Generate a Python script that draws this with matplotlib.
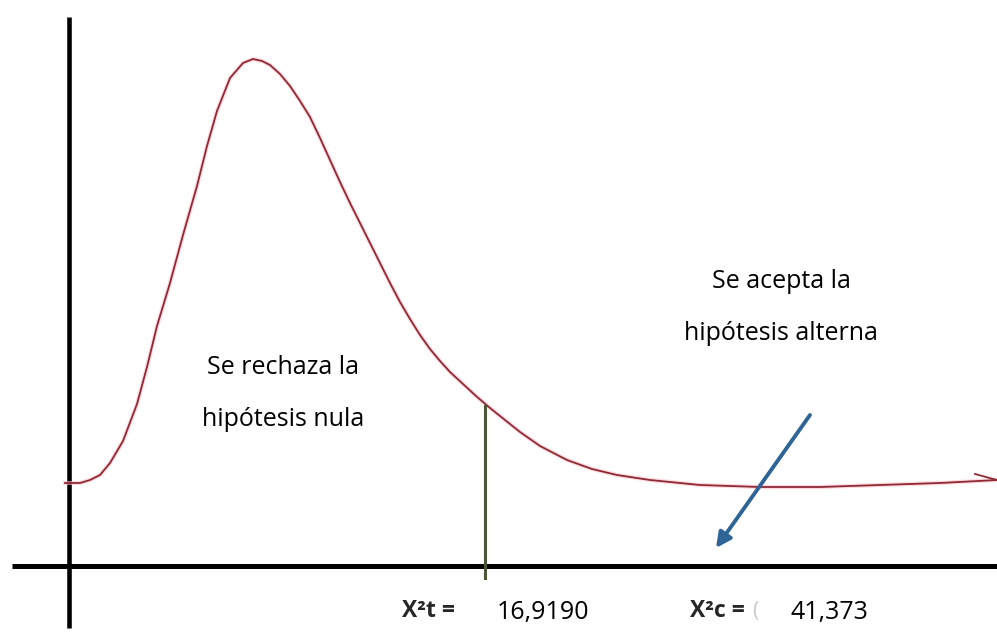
import numpy as np
import matplotlib.pyplot as plt

# curve: x position, height above the horizontal axis
curve_x = [65, 80, 90, 100, 110, 123, 137, 147, 157, 170, 183, 197, 207, 217,
           230, 243, 253, 262, 270, 280, 290, 300, 310, 320, 330, 340, 350,
           360, 370, 380, 390, 400, 410, 420, 430, 440, 450, 463, 476, 490, 505,
           520, 540, 567, 592, 617, 650, 700, 760, 820, 880, 940, 997]
curve_y = [83, 83, 86, 91, 103, 125, 162, 199, 240, 283, 331, 380, 420, 455,
           488, 503, 507, 505, 501, 492, 480, 465, 449, 428, 406, 384, 363,
           343, 323, 303, 283, 264, 247, 231, 217, 205, 194, 182, 170, 158, 146,
           134, 120, 106, 97, 91, 86, 81, 79, 79, 81, 83, 86]

# critical value marker and arrow
crit_x = 485
crit_top = 160
arrow_start = (810, 151)
arrow_end = (716, 18)

labels_left = ["Se rechaza la", "hipótesis nula"]
labels_right = ["Se acepta la", "hipótesis alterna"]
stat_labels = ["X²t =", "X²c ="]
stat_values = ["16,9190", "41,373"]

fig = plt.figure(figsize=(9.97, 6.41), dpi=100)
ax = fig.add_axes([0, 0, 1, 1])
ax.set_xlim(0, 997)
ax.set_ylim(-75, 566)
ax.axis('off')

# axes drawn by hand like in the picture
ax.plot([12, 997], [0, 0], color='black', lw=3.6, solid_capstyle='butt')
ax.plot([69, 69], [-62, 549], color='black', lw=3.3, solid_capstyle='butt')

# the distribution curve
ax.plot(curve_x, curve_y, color='#ffc0c8', lw=3.0, alpha=0.6)
ax.plot(curve_x, curve_y, color='#8e2a36', lw=1.3)
ax.plot([975, 997], [92, 86], color='#8e2a36', lw=1.3)

# critical value line
ax.plot([crit_x, crit_x], [-12, crit_top], color='#4b5636', lw=2.2)

# arrow pointing to the rejection area
ax.annotate('', xy=arrow_end, xytext=arrow_start,
            arrowprops=dict(arrowstyle='-|>,head_length=0.9,head_width=0.45',
                            color='#2f6596', lw=2.8, shrinkA=0, shrinkB=0))

fnt = 'Open Sans'
fs = 18
ax.text(283, 566 - 367, labels_left[0], ha='center', va='center', fontsize=fs, family=fnt)
ax.text(283, 566 - 420, labels_left[1], ha='center', va='center', fontsize=fs, family=fnt)
ax.text(781, 566 - 281, labels_right[0], ha='center', va='center', fontsize=fs, family=fnt)
ax.text(781, 566 - 334, labels_right[1], ha='center', va='center', fontsize=fs, family=fnt)

ax.text(402, 566 - 611, stat_labels[0], ha='left', va='center', fontsize=16.5,
        family=fnt, fontweight='bold', color='#262626')
ax.text(497, 566 - 613, stat_values[0], ha='left', va='center', fontsize=fs, family=fnt)
ax.text(690, 566 - 611, stat_labels[1], ha='left', va='center', fontsize=16.5,
        family=fnt, fontweight='bold', color='#262626')
ax.text(752, 566 - 611, '(', ha='left', va='center', fontsize=15,
        family=fnt, color='#c8c8c8')
ax.text(790, 566 - 613, stat_values[1], ha='left', va='center', fontsize=fs, family=fnt)

fig.savefig('out.png', dpi=100)
